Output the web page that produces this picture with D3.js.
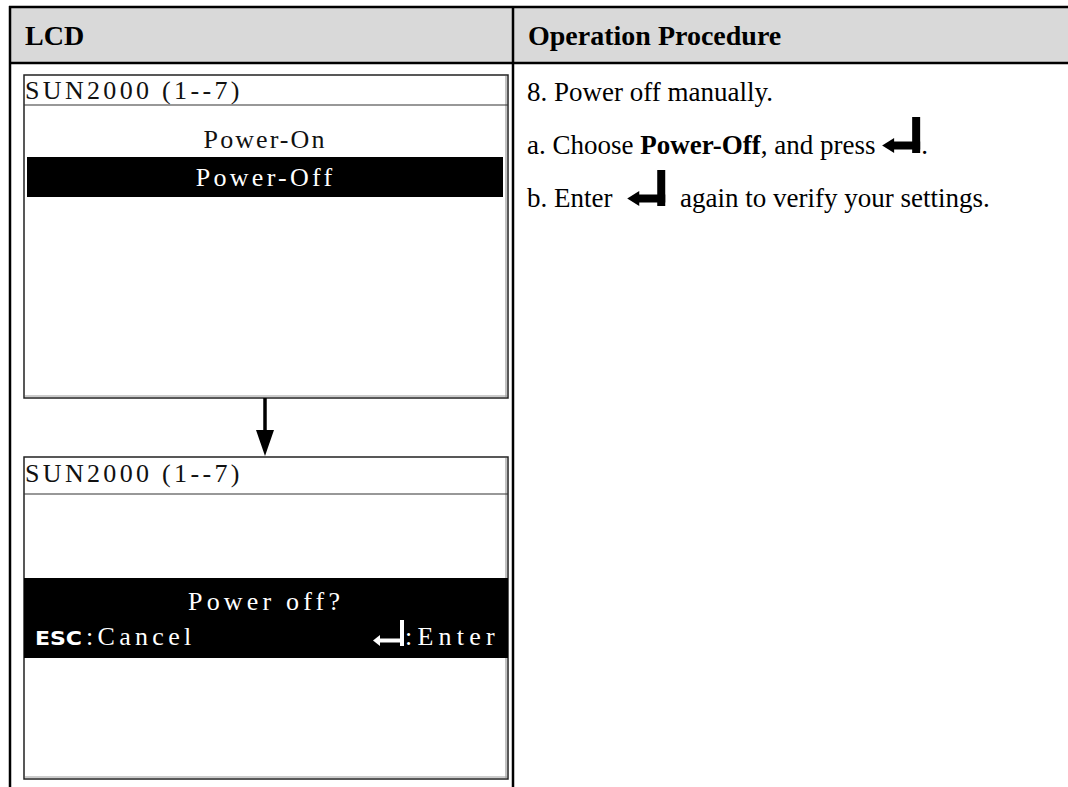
<!DOCTYPE html>
<html>
<head>
<meta charset="utf-8">
<script src="https://cdn.jsdelivr.net/npm/d3@7"></script>
<style>
  html, body { margin: 0; padding: 0; background: #ffffff; }
  svg { display: block; }
</style>
</head>
<body>
<script>
// ---------- data ----------
const headers = ["LCD", "Operation Procedure"];
const screenTitle = "SUN2000 (1--7)";
const menuItems = ["Power-On", "Power-Off"];
const selectedItem = "Power-Off";
const promptText = "Power off?";
const keyHints = ["ESC", ":Cancel", ":Enter"];
const stepLines = [
  [{ t: "8. Power off manually." }],
  [{ t: "a. Choose " }, { t: "Power-Off", bold: true }, { t: ", and press " }, { icon: true }, { t: "." }],
  [{ t: "b. Enter " }, { icon: true, gap: true }, { t: " again to verify your settings." }]
];

// ---------- layout ----------
const W = 1068, H = 787;
const serif = "'Liberation Serif', 'Times New Roman', serif";
const sans = "'DejaVu Sans', 'Liberation Sans', sans-serif";
const ADV = 15.6; // LCD character cell width

const svg = d3.select("body").append("svg").attr("width", W).attr("height", H);
svg.append("rect").attr("width", W).attr("height", H).attr("fill", "#fff");

const colX = d3.scaleOrdinal().domain(headers).range([10, 513]);
const tableTop = 7, headBottom = 63;

// header background
svg.append("rect").attr("x", 10).attr("y", tableTop).attr("width", W).attr("height", headBottom - tableTop)
  .attr("fill", "#d9d9d9");
svg.selectAll("text.hdr").data(headers).join("text").attr("class", "hdr")
  .attr("x", d => colX(d) + 15).attr("y", 45)
  .attr("font-family", serif).attr("font-weight", "bold").attr("font-size", 28).attr("fill", "#000")
  .text(d => d);

// table borders
svg.append("line").attr("x1", 9).attr("x2", W).attr("y1", tableTop).attr("y2", tableTop)
  .attr("stroke", "#000").attr("stroke-width", 2.5);
svg.append("line").attr("x1", 9).attr("x2", W).attr("y1", headBottom).attr("y2", headBottom)
  .attr("stroke", "#000").attr("stroke-width", 2.5);
svg.selectAll("line.col").data(headers).join("line").attr("class", "col")
  .attr("x1", d => colX(d)).attr("x2", d => colX(d)).attr("y1", tableTop - 1).attr("y2", H)
  .attr("stroke", "#000").attr("stroke-width", 2.5);

// LCD-style text: serif glyphs spread over a fixed character cell
function lcdText(g, str, x, y, color, anchorMiddle) {
  const n = str.length;
  const x0 = anchorMiddle ? x - n * ADV / 2 : x;
  return g.append("text").attr("x", x0).attr("y", y)
    .attr("font-family", serif).attr("font-size", 26).attr("fill", color)
    .attr("textLength", n * ADV - 4).attr("lengthAdjust", "spacing")
    .attr("xml:space", "preserve").text(str);
}

// ---------- LCD screens ----------
const boxX0 = 24, boxX1 = 508;
const boxCx = (boxX0 + boxX1) / 2;

function lcdBox(y0, y1, headLine) {
  const g = svg.append("g");
  g.append("rect").attr("x", boxX0).attr("y", y0).attr("width", boxX1 - boxX0).attr("height", y1 - y0)
    .attr("fill", "#fff").attr("stroke", "#222").attr("stroke-width", 1.5);
  g.append("line").attr("x1", boxX1 - 2).attr("x2", boxX1 - 2).attr("y1", y0 + 1).attr("y2", y1 - 1)
    .attr("stroke", "#9a9a9a").attr("stroke-width", 1.2);
  g.append("line").attr("x1", boxX0 + 1).attr("x2", boxX1 - 1).attr("y1", y1 - 2).attr("y2", y1 - 2)
    .attr("stroke", "#9a9a9a").attr("stroke-width", 1.2);
  g.append("line").attr("x1", boxX0).attr("x2", boxX1).attr("y1", headLine).attr("y2", headLine)
    .attr("stroke", "#333").attr("stroke-width", 1.2);
  return g;
}

// screen 1
const s1 = lcdBox(75, 398, 105);
lcdText(s1, screenTitle, boxX0 + 1, 99, "#111", false);
const itemY = d3.scalePoint().domain(menuItems).range([148, 186]);
s1.selectAll("rect.sel").data(menuItems.filter(d => d === selectedItem)).join("rect").attr("class", "sel")
  .attr("x", 27).attr("width", 503 - 27).attr("y", d => itemY(d) - 29).attr("height", 40).attr("fill", "#000");
menuItems.forEach(d => lcdText(s1, d, boxCx, itemY(d), d === selectedItem ? "#fff" : "#111", true));

// arrow between screens
svg.append("line").attr("x1", 265).attr("x2", 265).attr("y1", 398).attr("y2", 436)
  .attr("stroke", "#000").attr("stroke-width", 3.5);
svg.append("path").attr("d", d3.line()([[256, 430], [274, 430], [265, 456]]) + "Z").attr("fill", "#000");

// screen 2
const s2 = lcdBox(457, 779, 494);
lcdText(s2, screenTitle, boxX0 + 1, 482, "#111", false);
s2.append("rect").attr("x", boxX0).attr("y", 578).attr("width", boxX1 - boxX0).attr("height", 80).attr("fill", "#000");
lcdText(s2, promptText, boxCx, 610, "#fff", true);
s2.append("text").attr("x", 35).attr("y", 645)
  .attr("font-family", sans).attr("font-weight", "bold").attr("font-size", 19).attr("fill", "#fff")
  .attr("textLength", 47).attr("lengthAdjust", "spacingAndGlyphs").text(keyHints[0]);
lcdText(s2, keyHints[1], 86, 645, "#fff", false);
lcdText(s2, keyHints[2], 405, 645, "#fff", false);

function enterIcon(g, x, yBottom, w, h, bar, head, headH, color) {
  g.append("rect").attr("x", x + w - bar).attr("y", yBottom - h).attr("width", bar).attr("height", h).attr("fill", color);
  g.append("rect").attr("x", x + head - 1).attr("y", yBottom - (headH + bar) / 2).attr("width", w - head + 1).attr("height", bar).attr("fill", color);
  g.append("path").attr("d", d3.line()([[x, yBottom - headH / 2], [x + head, yBottom - headH], [x + head, yBottom]]) + "Z").attr("fill", color);
}
// small white enter icon in LCD
enterIcon(s2, 373, 646, 31, 26, 4, 7, 11, "#fff");

// ---------- operation procedure text ----------
const lineY = d3.scaleLinear().domain([0, stepLines.length - 1]).range([101, 207]);
const textG = svg.append("g");
stepLines.forEach((pieces, i) => {
  let x = 527;
  const y = lineY(i);
  pieces.forEach(p => {
    if (p.icon) {
      if (p.gap) x += 8;
      enterIcon(textG, x, y - 1, 38, 36, 8, 12, 15, "#000");
      x += 38 + (p.gap ? 8 : 1);
    } else {
      const t = textG.append("text").attr("x", x).attr("y", y)
        .attr("font-family", serif).attr("font-size", 27).attr("fill", "#000")
        .attr("font-weight", p.bold ? "bold" : "normal").attr("xml:space", "preserve").text(p.t);
      x += t.node().getComputedTextLength();
    }
  });
});
</script>
</body>
</html>
